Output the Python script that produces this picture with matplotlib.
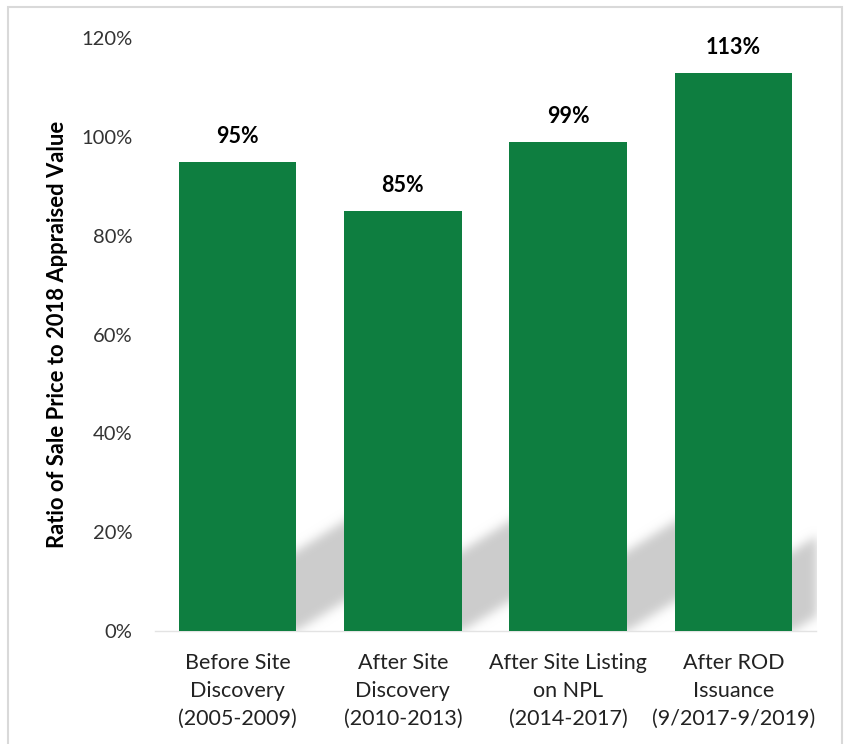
import numpy as np
import matplotlib.pyplot as plt
from matplotlib.patches import Rectangle

plt.rcParams['font.family'] = ['Lato', 'DejaVu Sans']

# data
categories = ["Before Site\nDiscovery\n(2005-2009)",
              "After Site\nDiscovery\n(2010-2013)",
              "After Site Listing\non NPL\n(2014-2017)",
              "After ROD\nIssuance\n(9/2017-9/2019)"]
ratios = [95, 85, 99, 113]
value_labels = ["95%", "85%", "99%", "113%"]
y_ticks = [0, 20, 40, 60, 80, 100, 120]
y_ticklabels = ["0%", "20%", "40%", "60%", "80%", "100%", "120%"]

green = '#0E7E40'
bar_w = 0.71

fig = plt.figure(figsize=(8.45, 7.44), dpi=100)
ax = fig.add_axes([0.1832, 0.1519, 0.7827, 0.797])

x = np.arange(len(ratios))
ax.bar(x, ratios, width=bar_w, color=green, zorder=3)

# soft perspective shadow behind each bar (Excel-style)
nx, ny = 662, 593
xlim = (-0.5, len(ratios) - 0.5)
ylim = (0, 120)
cols = np.arange(nx)[None, :]
rows = np.arange(ny)[:, None]
mask = np.zeros((ny, nx))
for xi in x:
    cr = (xi + bar_w / 2 - xlim[0]) / (xlim[1] - xlim[0]) * nx
    d = cols - cr
    band = (d > -40) & (d < 70) & (rows >= 0.62 * d) & (rows <= 80 + 0.62 * d)
    mask[band] = 1.0
sig = 5.0
k = np.exp(-0.5 * (np.arange(-15, 16) / sig) ** 2)
k /= k.sum()
mask = np.apply_along_axis(lambda r: np.convolve(r, k, mode='same'), 1, mask)
mask = np.apply_along_axis(lambda c: np.convolve(c, k, mode='same'), 0, mask)
rgba = np.zeros((ny, nx, 4))
rgba[..., :3] = 0.8
rgba[..., 3] = mask
ax.imshow(rgba, extent=(xlim[0], xlim[1], ylim[0], ylim[1]), origin='lower',
          aspect='auto', interpolation='bilinear', zorder=1)

ax.set_xlim(*xlim)
ax.set_ylim(*ylim)

for xi, v, lab in zip(x, ratios, value_labels):
    ax.annotate(lab, (xi, v), xytext=(0, 18), textcoords='offset points',
                ha='center', va='center', fontsize=15.5, fontweight='bold',
                color='black')

ax.set_yticks(y_ticks)
ax.set_yticklabels(y_ticklabels, fontsize=14.5, color='#333333')
ax.set_xticks(x)
ax.set_xticklabels(categories, fontsize=15.5, color='#222222', linespacing=1.5)
ax.tick_params(axis='y', length=0, pad=16)
ax.tick_params(axis='x', length=0, pad=16)

for s in ['top', 'right', 'left']:
    ax.spines[s].set_visible(False)
ax.spines['bottom'].set_color('#e3e3e3')
ax.spines['bottom'].set_linewidth(1.0)

ax.set_ylabel("Ratio of Sale Price to 2018 Appraised Value", fontsize=15.8,
              fontweight='bold', color='black', va='center')
ax.yaxis.set_label_coords(-0.1464, 0.5)

fig.patches.append(Rectangle((8 / 845, -0.05), 834 / 845, 1.05 - 7 / 744,
                             transform=fig.transFigure, fill=False,
                             edgecolor='#d9d9d9', linewidth=1.5))

fig.savefig('out.png', dpi=100)
